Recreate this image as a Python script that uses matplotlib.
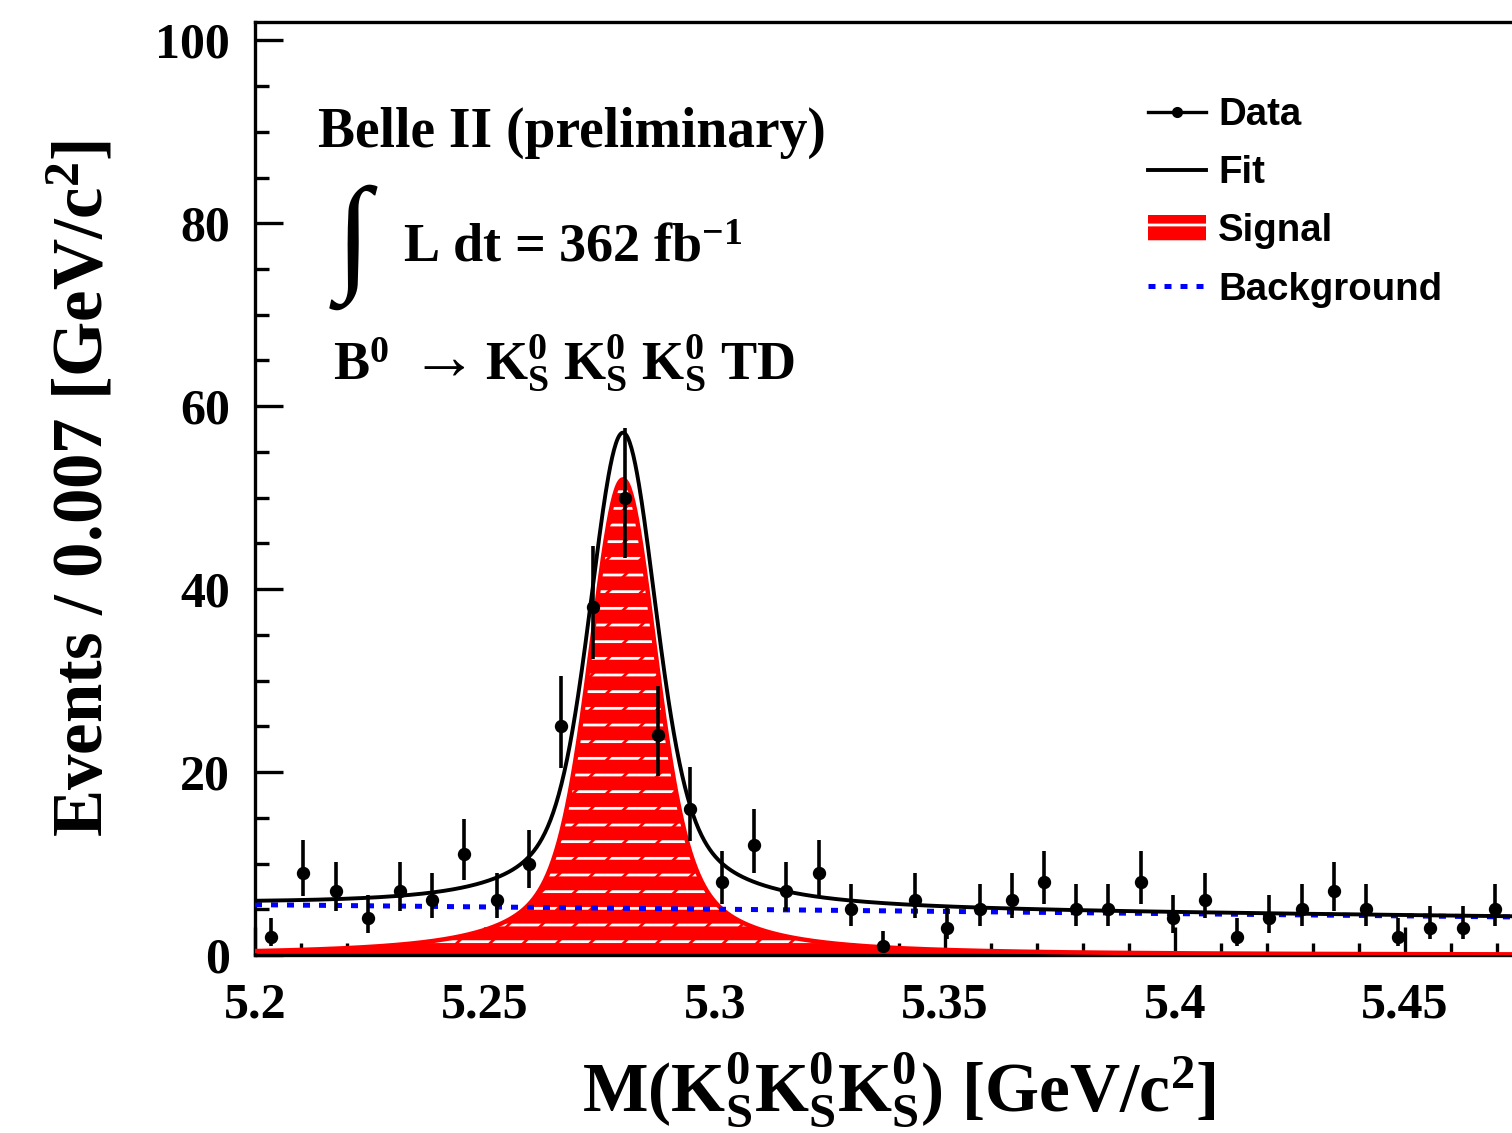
import numpy as np
import matplotlib
matplotlib.use("Agg")
import matplotlib.pyplot as plt
from matplotlib.lines import Line2D
from matplotlib.ticker import MultipleLocator, FixedLocator

# Binned candidate mass: 0.007 GeV/c^2 bins starting at 5.2 GeV/c^2
bin_start = 5.2
bin_width = 0.007
counts = [2, 9, 7, 4, 7, 6, 11, 6, 10, 25, 38, 50, 24, 16, 8, 12, 7, 9, 5, 1,
          6, 3, 5, 6, 8, 5, 5, 8, 4, 6, 2, 4, 5, 7, 5, 2, 3, 3, 5]

# Fit model: signal = Gaussian core + Cauchy tails, background = linear
sig_mean = 5.2800
sig_core_amp = 28.0
sig_core_sigma = 0.0068
sig_tail_amp = 24.0
sig_tail_width = 0.0108
bkg_at_start = 5.5
bkg_slope = -4.9

x_range = (5.2, 5.5)
y_range = (0, 102)
x_ticks = [5.2, 5.25, 5.3, 5.35, 5.4, 5.45]
x_tick_labels = ["5.2", "5.25", "5.3", "5.35", "5.4", "5.45"]
y_ticks = [0, 20, 40, 60, 80, 100]
y_tick_labels = ["0", "20", "40", "60", "80", "100"]
legend_labels = ["Data", "Fit", "Signal", "Background"]

plt.rcParams.update({
    "font.family": ["Liberation Serif", "DejaVu Serif"],
    "font.weight": "bold",
    "axes.labelweight": "bold",
    "mathtext.fontset": "custom",
    "mathtext.rm": "Liberation Serif:bold",
    "mathtext.bf": "Liberation Serif:bold",
    "mathtext.it": "Liberation Serif:italic:bold",
    "mathtext.default": "rm",
    "hatch.color": "white",
    "hatch.linewidth": 1.0,
})

W, H = 1512, 1133
fig = plt.figure(figsize=(W / 200, H / 200), dpi=200)
ax_left, ax_bottom, ax_top = 255, 955, 22
ax_right = 255 + (x_range[1] - x_range[0]) * 4600
ax = fig.add_axes([ax_left / W, 1 - ax_bottom / H,
                   (ax_right - ax_left) / W, (ax_bottom - ax_top) / H])

n = np.array(counts, dtype=float)
centers = bin_start + bin_width * (np.arange(len(counts)) + 0.5)
err_lo = np.sqrt(n + 0.25) - 0.5
err_hi = np.sqrt(n + 0.25) + 0.5

xf = np.linspace(x_range[0], x_range[1], 1500)
d = xf - sig_mean
signal = (sig_core_amp * np.exp(-0.5 * (d / sig_core_sigma) ** 2)
          + sig_tail_amp / (1 + (d / sig_tail_width) ** 2))
background = bkg_at_start + bkg_slope * (xf - x_range[0])
total = signal + background

# Signal area: red with white hatching broken up by a red diagonal hatch
sig_fill = ax.fill_between(xf, 0, signal, facecolor="#ff0000", edgecolor="white",
                           hatch="--", linewidth=0, zorder=2)
ax.fill_between(xf, 0, signal, facecolor="none", edgecolor="#ff0000",
                hatch="//", linewidth=0, zorder=2.5)
ax.plot(xf, signal, color="#ff0000", lw=1.6, zorder=3)
bkg_line, = ax.plot(xf, background, color="#0000ff", lw=1.8,
                    ls=(0, (1.4, 1.8)), zorder=4)
fit_line, = ax.plot(xf, total, color="black", lw=1.4, zorder=5)
ax.errorbar(centers, n, yerr=[err_lo, err_hi], fmt="o", ms=3.8, color="black",
            ecolor="black", elinewidth=1.3, capsize=0, zorder=6)

ax.set_xlim(*x_range)
ax.set_ylim(*y_range)
ax.xaxis.set_major_locator(FixedLocator(x_ticks))
ax.set_xticklabels(x_tick_labels)
ax.xaxis.set_minor_locator(MultipleLocator(0.01))
ax.yaxis.set_major_locator(FixedLocator(y_ticks))
ax.set_yticklabels(y_tick_labels)
ax.yaxis.set_minor_locator(MultipleLocator(5))

ax.tick_params(axis="both", which="both", direction="in", top=False, right=False,
               width=1.2, colors="black")
ax.tick_params(axis="y", which="major", length=10, pad=9, labelsize=18)
ax.tick_params(axis="y", which="minor", length=5)
ax.tick_params(axis="x", which="major", length=10, pad=10, labelsize=18)
ax.tick_params(axis="x", which="minor", length=4.5)
for s in ax.spines.values():
    s.set_linewidth(1.2)

ax.set_xlabel(r"M(K$^{0}_{S}$K$^{0}_{S}$K$^{0}_{S}$) [GeV/c$^{2}$]", fontsize=25)
ax.xaxis.set_label_coords(0.4667, -0.102)
ax.set_ylabel(r"Events / 0.007 [GeV/c$^{2}$]", fontsize=25.5)
ax.yaxis.set_label_coords(-0.100, 0.5)

fig.text(318 / W, 1 - 147 / H, "Belle II (preliminary)", fontsize=20,
         ha="left", va="baseline")
fig.text(336 / W, 1 - 247 / H, "\u222b", fontsize=46, ha="left", va="center",
         family=["Liberation Serif", "DejaVu Serif"], weight="bold")
fig.text(403 / W, 1 - 262 / H, r"L dt = 362 fb$^{-1}$", fontsize=19.5,
         ha="left", va="baseline")
fig.text(333 / W, 1 - 380 / H, r"B$^{0}$", fontsize=19.5,
         ha="left", va="baseline")
fig.text(444 / W, 1 - 362 / H, "\u2192", fontsize=24, ha="center", va="center",
         family=["Liberation Serif", "DejaVu Serif"])
fig.text(485 / W, 1 - 380 / H, r"K$^{0}_{S}$ K$^{0}_{S}$ K$^{0}_{S}$ TD",
         fontsize=19.5, ha="left", va="baseline")

data_handle = Line2D([], [], color="black", marker="o", ms=3, lw=1.2)
ax.legend([data_handle, fit_line, sig_fill, bkg_line], legend_labels,
          loc="upper left", bbox_to_anchor=(1148 / W, 1 - 97 / H),
          bbox_transform=fig.transFigure, frameon=False,
          prop={"family": "Liberation Sans", "weight": "bold", "size": 13.8},
          handlelength=1.5, handletextpad=0.33, labelspacing=0.58,
          borderpad=0, borderaxespad=0)

fig.savefig("out.png", dpi=200)
